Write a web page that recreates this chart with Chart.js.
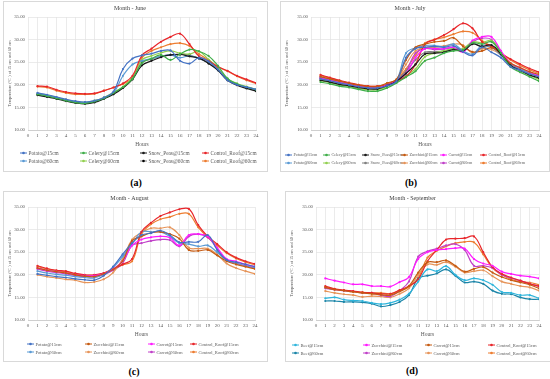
<!DOCTYPE html>
<html>
<head>
<meta charset="utf-8">
<script src="https://cdn.jsdelivr.net/npm/chart.js@4.4.0/dist/chart.umd.min.js"></script>
<style>
  body { margin: 0; width: 550px; height: 379px; background: #fff; position: relative; overflow: hidden; font-family: "Liberation Serif", serif; }
  .panel { position: absolute; border: 1px solid #d9d9d9; background: #fff; }
  .cap { position: absolute; font-weight: bold; font-size: 10px; color: #000; transform: translate(-50%, -50%); }
</style>
</head>
<body>
<div class="panel" style="left:3px;top:1px;width:263px;height:169px"><canvas id="chartJune"></canvas></div>
<div class="panel" style="left:280px;top:1px;width:268px;height:169px"><canvas id="chartJuly"></canvas></div>
<div class="panel" style="left:3px;top:191px;width:263px;height:169px"><canvas id="chartAugust"></canvas></div>
<div class="panel" style="left:285px;top:191px;width:264px;height:169px"><canvas id="chartSeptember"></canvas></div>
<div class="cap" style="left:136px;top:182px">(a)</div>
<div class="cap" style="left:411px;top:182px">(b)</div>
<div class="cap" style="left:134px;top:371px">(c)</div>
<div class="cap" style="left:412px;top:370px">(d)</div>

<script>
// Axis values
const hours = [1, 2, 3, 4, 5, 6, 7, 8, 9, 10, 11, 12, 13, 14, 15, 16, 17, 18, 19, 20, 21, 22, 23, 24];
const yTicks = [10, 15, 20, 25, 30, 35];

// June
const junePotato15 = [18.2, 17.8, 17.3, 16.8, 16.4, 16.2, 16.5, 17.2, 18.5, 23.5, 25.8, 26.5, 26.9, 27.5, 27.6, 25.3, 24.7, 26.0, 25.2, 23.4, 21.0, 20.0, 19.5, 19.0];
const junePotato60 = [18.0, 17.6, 17.1, 16.6, 16.2, 16.0, 16.3, 17.0, 18.2, 22.0, 24.5, 25.3, 25.8, 26.3, 26.6, 26.0, 26.4, 25.8, 24.9, 23.2, 21.1, 20.1, 19.5, 18.9];
const juneCelery15 = [17.9, 17.5, 17.0, 16.5, 16.1, 15.9, 16.3, 17.0, 18.2, 19.5, 21.3, 24.8, 25.8, 26.6, 25.5, 26.8, 27.8, 27.4, 26.4, 24.2, 21.4, 20.2, 19.5, 18.9];
const juneCelery60 = [18.1, 17.7, 17.2, 16.7, 16.3, 16.1, 16.5, 17.2, 18.3, 19.6, 21.6, 25.5, 26.4, 27.1, 27.5, 27.0, 26.8, 27.4, 25.6, 23.7, 21.3, 20.3, 19.6, 19.0];
const juneSnow15 = [17.7, 17.3, 16.9, 16.4, 16.0, 15.8, 16.1, 16.9, 17.9, 19.3, 21.2, 24.3, 25.3, 26.1, 26.6, 26.7, 26.3, 25.9, 24.7, 23.2, 21.0, 19.9, 19.2, 18.6];
const juneSnow60 = [17.9, 17.5, 17.0, 16.5, 16.1, 16.0, 16.3, 17.0, 18.1, 19.4, 21.4, 25.0, 25.7, 26.3, 26.6, 26.7, 26.6, 25.8, 24.9, 23.4, 21.2, 20.1, 19.4, 18.8];
const juneRoof15 = [19.7, 19.6, 18.9, 18.4, 18.1, 18.0, 18.1, 18.7, 19.4, 20.3, 22.0, 26.5, 28.0, 29.5, 30.6, 31.3, 29.0, 26.3, 25.3, 24.0, 23.1, 22.0, 21.2, 20.4];
const juneRoof60 = [19.6, 19.4, 18.7, 18.2, 17.9, 17.9, 18.0, 18.7, 19.4, 20.2, 21.6, 26.0, 27.5, 28.3, 29.0, 29.2, 28.6, 26.8, 25.5, 24.0, 23.0, 21.9, 21.0, 20.3];

// July
const julyPotato15 = [21.3, 20.9, 20.4, 20.0, 19.6, 19.3, 19.3, 19.8, 20.8, 26.0, 28.0, 28.3, 28.5, 28.3, 28.6, 27.3, 26.5, 28.3, 27.2, 26.0, 24.0, 23.2, 22.4, 21.8];
const julyPotato60 = [21.6, 21.1, 20.6, 20.2, 19.8, 19.5, 19.5, 20.0, 21.0, 27.0, 28.2, 28.7, 28.7, 28.4, 29.0, 27.5, 26.8, 28.7, 28.3, 26.5, 24.3, 23.5, 22.7, 22.1];
const julyCelery15 = [20.6, 20.2, 19.7, 19.4, 19.0, 18.6, 18.6, 19.3, 20.4, 21.7, 23.0, 25.3, 26.0, 27.0, 27.5, 27.7, 29.3, 29.0, 29.5, 27.0, 24.0, 22.8, 21.8, 20.8];
const julyCelery60 = [20.9, 20.5, 20.0, 19.6, 19.2, 18.9, 18.9, 19.6, 20.6, 22.0, 23.5, 26.2, 27.0, 27.5, 28.0, 28.0, 29.5, 29.3, 29.8, 27.3, 24.3, 23.1, 22.1, 21.2];
const julySnow15 = [21.0, 20.6, 20.1, 19.8, 19.4, 19.1, 19.1, 19.8, 20.8, 22.5, 24.5, 26.8, 27.0, 27.2, 27.8, 27.5, 29.0, 28.5, 28.8, 26.8, 24.3, 23.2, 22.2, 21.5];
const julySnow60 = [21.3, 20.9, 20.4, 20.0, 19.6, 19.3, 19.3, 20.0, 21.0, 23.0, 25.5, 27.2, 27.3, 27.5, 28.0, 27.8, 29.2, 28.3, 28.5, 27.0, 24.6, 23.5, 22.6, 21.9];
const julyZucchini15 = [21.8, 21.3, 20.8, 20.3, 19.9, 19.6, 19.6, 20.4, 21.2, 25.5, 28.3, 29.0, 29.5, 29.7, 30.4, 28.5, 27.3, 27.5, 28.2, 26.8, 24.8, 23.8, 22.9, 22.3];
const julyZucchini60 = [21.5, 21.0, 20.5, 20.1, 19.7, 19.4, 19.4, 20.2, 21.1, 24.5, 27.5, 28.2, 28.3, 28.6, 29.0, 28.8, 27.0, 28.0, 27.8, 26.6, 24.5, 23.5, 22.6, 22.0];
const julyCarrot15 = [21.5, 21.0, 20.5, 20.1, 19.7, 19.4, 19.4, 19.9, 20.9, 22.5, 26.0, 28.0, 28.0, 28.0, 28.3, 27.2, 29.8, 30.6, 30.6, 27.5, 24.8, 23.8, 22.8, 22.0];
const julyCarrot60 = [21.7, 21.2, 20.7, 20.3, 19.9, 19.6, 19.6, 20.1, 21.0, 23.0, 27.0, 28.0, 27.8, 27.9, 28.2, 27.5, 29.5, 30.3, 30.0, 27.0, 24.6, 23.6, 22.6, 21.9];
const julyRoof15 = [22.2, 21.6, 21.0, 20.5, 20.0, 19.7, 19.7, 20.0, 21.0, 21.8, 24.5, 29.0, 30.0, 31.0, 32.3, 33.6, 32.5, 29.5, 28.5, 27.0, 25.7, 24.6, 23.6, 22.8];
const julyRoof60 = [22.0, 21.5, 20.9, 20.4, 20.0, 19.7, 19.7, 20.2, 21.2, 23.5, 26.5, 29.2, 30.0, 30.5, 31.2, 31.8, 31.5, 29.8, 28.5, 27.0, 25.5, 24.3, 23.3, 22.5];

// August
const augPotato15 = [20.2, 19.9, 19.6, 19.4, 19.1, 18.9, 18.8, 19.8, 21.8, 24.5, 27.0, 28.8, 29.2, 29.8, 28.8, 27.2, 27.3, 27.3, 28.8, 25.5, 23.3, 22.8, 22.3, 21.8];
const augPotato60 = [20.8, 20.4, 20.1, 19.9, 19.6, 19.4, 19.3, 20.1, 21.6, 24.0, 26.8, 29.5, 29.5, 29.5, 28.5, 27.0, 26.8, 26.3, 26.5, 25.0, 23.2, 22.5, 22.0, 21.5];
const augZucchini15 = [21.5, 21.0, 20.7, 20.4, 20.0, 19.7, 19.6, 20.2, 21.2, 23.0, 27.5, 28.5, 29.3, 29.5, 29.0, 28.0, 25.5, 25.3, 25.5, 24.3, 23.0, 22.3, 21.8, 21.3];
const augZucchini60 = [20.0, 19.6, 19.3, 19.0, 18.8, 18.3, 18.4, 19.0, 20.5, 23.5, 27.8, 29.3, 30.3, 30.3, 30.5, 28.8, 26.0, 25.8, 25.8, 24.5, 22.5, 21.5, 20.8, 20.2];
const augCarrot15 = [21.5, 21.0, 20.7, 20.4, 20.0, 19.8, 19.8, 20.2, 21.3, 23.0, 26.5, 27.8, 28.3, 28.5, 28.2, 26.5, 28.8, 29.0, 28.5, 26.0, 23.5, 23.0, 22.3, 21.8];
const augCarrot60 = [21.3, 20.8, 20.5, 20.2, 19.8, 19.6, 19.6, 20.0, 21.0, 22.5, 26.5, 27.0, 27.5, 27.8, 27.7, 26.3, 28.5, 29.0, 28.3, 25.8, 23.3, 22.6, 22.0, 21.5];
const augRoof15 = [22.0, 21.4, 21.0, 20.8, 20.3, 20.0, 20.0, 20.4, 21.3, 22.3, 23.5, 29.5, 31.5, 33.0, 33.8, 34.5, 34.6, 31.0, 28.5, 26.8, 25.0, 23.8, 23.0, 22.4];
const augRoof60 = [21.8, 21.3, 20.9, 20.6, 20.2, 19.9, 19.9, 20.3, 21.2, 22.2, 23.0, 29.0, 31.2, 32.3, 32.8, 33.5, 33.5, 30.5, 28.3, 26.5, 24.8, 23.6, 22.8, 22.2];

// September
const sepBeet15 = [14.8, 15.0, 14.5, 14.3, 14.2, 13.8, 13.5, 13.8, 14.5, 15.8, 18.5, 21.2, 20.8, 21.9, 20.0, 18.8, 19.2, 18.8, 17.8, 16.2, 16.0, 15.5, 15.5, 14.8];
const sepBeet60 = [14.2, 14.2, 14.0, 14.0, 13.9, 13.6, 13.0, 13.3, 14.0, 15.5, 19.2, 19.8, 20.3, 21.2, 19.8, 18.3, 18.5, 18.0, 16.5, 15.8, 15.7, 15.0, 14.6, 14.6];
const sepZucchini15 = [19.2, 18.7, 18.3, 17.9, 17.9, 17.5, 17.5, 17.4, 18.4, 19.5, 23.5, 25.0, 25.5, 25.7, 25.9, 25.8, 23.5, 22.5, 22.0, 20.7, 20.2, 19.8, 19.6, 19.2];
const sepZucchini60 = [17.0, 16.7, 16.5, 16.3, 16.0, 16.0, 15.5, 15.2, 16.5, 18.5, 24.0, 25.2, 25.8, 26.5, 26.8, 25.5, 22.0, 22.0, 21.5, 20.0, 19.3, 18.7, 18.0, 17.5];
const sepCarrot15 = [17.2, 16.7, 16.5, 16.2, 16.0, 15.8, 15.6, 15.5, 16.3, 17.5, 20.5, 22.8, 22.8, 23.2, 22.0, 20.7, 21.3, 21.7, 20.5, 19.5, 18.8, 18.3, 17.8, 17.0];
const sepCarrot60 = [16.4, 16.0, 15.7, 15.5, 15.1, 15.3, 15.2, 15.0, 15.8, 17.0, 20.0, 22.3, 22.2, 22.8, 21.8, 20.5, 20.8, 21.0, 19.7, 18.5, 18.0, 17.5, 17.2, 16.5];
const sepRoof15 = [17.5, 16.9, 16.6, 16.4, 16.1, 16.0, 15.8, 15.8, 16.6, 17.5, 19.0, 23.0, 25.5, 27.8, 28.0, 28.1, 28.5, 25.0, 21.7, 20.2, 19.4, 18.7, 18.0, 17.5];
const sepRoof60 = [17.3, 16.8, 16.5, 16.3, 16.1, 16.0, 16.0, 15.8, 16.5, 17.3, 19.3, 23.8, 25.3, 26.3, 27.0, 27.3, 27.2, 24.5, 21.5, 20.0, 19.0, 18.5, 18.3, 17.8];

const FONT = '"Liberation Serif", "DejaVu Serif", serif';
const GRID = '#e2e2e2';
const TXT = '#595959';

// Legend laid out in fixed columns, like the spreadsheet one
const gridLegend = {
  id: 'gridLegend',
  afterDraw(chart, args, opts) {
    const ctx = chart.ctx;
    ctx.save();
    ctx.font = opts.size + 'px ' + FONT;
    ctx.textBaseline = 'middle';
    chart.data.datasets.forEach((ds, i) => {
      const x = opts.cols[i % opts.cols.length];
      const y = opts.y0 + Math.floor(i / opts.cols.length) * opts.rowH;
      ctx.strokeStyle = ds.borderColor;
      ctx.lineWidth = 1;
      ctx.beginPath();
      ctx.moveTo(x, y);
      ctx.lineTo(x + 7, y);
      ctx.stroke();
      ctx.fillStyle = ds.pointBackgroundColor;
      ctx.beginPath();
      ctx.arc(x + 3.5, y, 1.3, 0, Math.PI * 2);
      ctx.fill();
      ctx.fillStyle = TXT;
      ctx.fillText(ds.label, x + 8.5, y + 0.3);
    });
    ctx.restore();
  }
};

function makeDataset(label, values, color, marker) {
  return {
    label: label,
    data: values.map((v, i) => ({x: hours[i], y: v})),
    borderColor: color,
    backgroundColor: color,
    pointBackgroundColor: marker || color,
    pointBorderColor: marker || color,
    borderWidth: 1.2,
    pointRadius: 1.1,
    pointBorderWidth: 0,
    tension: 0.4,
    fill: false
  };
}

function makeChart(id, title, datasets, box) {
  const W = box.w, H = box.h;
  return new Chart(document.getElementById(id), {
    type: 'line',
    data: {datasets: datasets},
    plugins: [gridLegend],
    options: {
      responsive: true,
      maintainAspectRatio: false,
      animation: false,
      events: [],
      layout: {padding: {top: 0, left: 0, right: W - box.right, bottom: H - box.bottom - 22}},
      plugins: {
        legend: {display: false},
        tooltip: {enabled: false},
        title: {display: true, text: title, color: '#404040', font: {family: FONT, size: 6, weight: 'normal'}, padding: {top: 3, bottom: 4.8}},
        gridLegend: {cols: box.cols, y0: box.legendY, rowH: 8, size: box.legendSize}
      },
      scales: {
        x: {
          type: 'linear',
          min: 0,
          max: 24,
          grid: {color: GRID, lineWidth: 0.7, drawTicks: false},
          border: {color: '#cfcfcf'},
          ticks: {stepSize: 1, autoSkip: false, maxRotation: 0, padding: 3, color: TXT, font: {family: FONT, size: 5}},
          title: {display: true, text: 'Hours', color: TXT, font: {family: FONT, size: 5.5}, padding: {top: 0, bottom: 4}},
          afterFit(scale) { scale.height = 22; }
        },
        y: {
          min: yTicks[0],
          max: yTicks[yTicks.length - 1],
          grid: {color: GRID, lineWidth: 0.7, drawTicks: false},
          border: {display: false},
          ticks: {stepSize: 5, padding: 3, color: TXT, font: {family: FONT, size: 4.8}, callback: v => v.toFixed(2)},
          title: {display: true, text: 'Temperature (°C ) at 15 cm and 60 cm', color: TXT, font: {family: FONT, size: 4.3}, padding: {top: 3, bottom: 0}},
          afterFit(scale) { scale.width = box.left; }
        }
      }
    }
  });
}

const C = {
  potato15: '#4472c4', potato60: '#5b9bd5',
  celery15: '#3fae49', celery60: '#92d050',
  snow15: '#1a1a1a', snow60: '#808080',
  zuc15: '#c55a11', zuc60: '#e69459',
  carrot15: '#ff1aff', carrot60: '#c040c8',
  beet15: '#2fb5dc', beet60: '#1b85a8',
  roof15: '#e8262b', roof60: '#ed7d31'
};

makeChart('chartJune', 'Month - June', [
  makeDataset('Potato@15cm', junePotato15, C.potato15),
  makeDataset('Celery@15cm', juneCelery15, C.celery15),
  makeDataset('Snow_Peas@15cm', juneSnow15, C.snow15),
  makeDataset('Control_Roof@15cm', juneRoof15, C.roof15),
  makeDataset('Potato@60cm', junePotato60, C.potato60),
  makeDataset('Celery@60cm', juneCelery60, C.celery60),
  makeDataset('Snow_Peas@60cm', juneSnow60, C.snow60, '#000'),
  makeDataset('Control_Roof@60cm', juneRoof60, C.roof60)
], {w: 263, h: 169, left: 24, right: 252, bottom: 128, cols: [16, 76, 136, 198], legendY: 151, legendSize: 5.3});

makeChart('chartJuly', 'Month - July', [
  makeDataset('Potato@15cm', julyPotato15, C.potato15),
  makeDataset('Celery@15cm', julyCelery15, C.celery15),
  makeDataset('Snow_Peas@15cm', julySnow15, C.snow15),
  makeDataset('Zucchini@15cm', julyZucchini15, C.zuc15),
  makeDataset('Carrot@15cm', julyCarrot15, C.carrot15),
  makeDataset('Control_Roof@15cm', julyRoof15, C.roof15),
  makeDataset('Potato@60cm', julyPotato60, C.potato60),
  makeDataset('Celery@60cm', julyCelery60, C.celery60),
  makeDataset('Snow_Peas@60cm', julySnow60, C.snow60),
  makeDataset('Zucchini@60cm', julyZucchini60, C.zuc60),
  makeDataset('Carrot@60cm', julyCarrot60, C.carrot60),
  makeDataset('Control_Roof@60cm', julyRoof60, C.roof60)
], {w: 268, h: 169, left: 30, right: 258, bottom: 128, cols: [4, 42, 81, 120, 159, 199], legendY: 153, legendSize: 4.2});

makeChart('chartAugust', 'Month - August', [
  makeDataset('Potato@15cm', augPotato15, C.potato15),
  makeDataset('Zucchini@15cm', augZucchini15, C.zuc15),
  makeDataset('Carrot@15cm', augCarrot15, C.carrot15),
  makeDataset('Control_Roof@15cm', augRoof15, C.roof15),
  makeDataset('Potato@60cm', augPotato60, C.potato60),
  makeDataset('Zucchini@60cm', augZucchini60, C.zuc60),
  makeDataset('Carrot@60cm', augCarrot60, C.carrot60),
  makeDataset('Control_Roof@60cm', augRoof60, C.roof60)
], {w: 263, h: 169, left: 24, right: 251, bottom: 128, cols: [23, 81, 144, 186], legendY: 152, legendSize: 4.6});

makeChart('chartSeptember', 'Month - September', [
  makeDataset('Beet@15cm', sepBeet15, C.beet15),
  makeDataset('Zucchini@15cm', sepZucchini15, C.carrot15),
  makeDataset('Carrot@15cm', sepCarrot15, C.zuc15),
  makeDataset('Control_Roof@15cm', sepRoof15, C.roof15),
  makeDataset('Beet@60cm', sepBeet60, C.beet60),
  makeDataset('Zucchini@60cm', sepZucchini60, C.carrot60),
  makeDataset('Carrot@60cm', sepCarrot60, C.zuc60),
  makeDataset('Control_Roof@60cm', sepRoof60, C.roof60)
], {w: 264, h: 169, left: 30, right: 253, bottom: 128, cols: [6, 77, 139, 202], legendY: 153, legendSize: 4.6});
</script>
</body>
</html>
